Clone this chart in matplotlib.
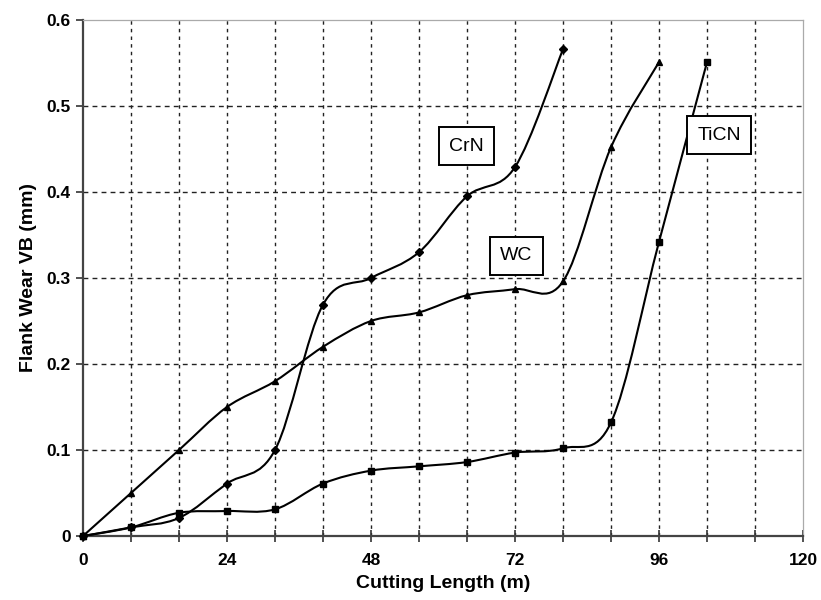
import matplotlib
matplotlib.use("Agg")
import matplotlib.pyplot as plt
from matplotlib.path import Path
from matplotlib.patches import PathPatch
from matplotlib.ticker import MultipleLocator
import numpy as np

plt.rcParams['font.family'] = ['Liberation Sans', 'DejaVu Sans']

# ---- data ----
crn_x = [0, 8, 16, 24, 32, 40, 48, 56, 64, 72, 80]
crn_y = [0, 0.01, 0.021, 0.061, 0.10, 0.269, 0.30, 0.33, 0.395, 0.429, 0.566]

wc_x = [0, 8, 16, 24, 32, 40, 48, 56, 64, 72, 80, 88, 96]
wc_y = [0, 0.05, 0.10, 0.15, 0.18, 0.22, 0.25, 0.26, 0.28, 0.287, 0.296, 0.452, 0.551]

ticn_x = [0, 8, 16, 24, 32, 40, 48, 56, 64, 72, 80, 88, 96, 104]
ticn_y = [0, 0.01, 0.027, 0.029, 0.031, 0.061, 0.076, 0.081, 0.086, 0.097, 0.102, 0.132, 0.342, 0.551]

labels = ["CrN", "WC", "TiCN"]
label_pos = [(63.9, 0.453), (72.2, 0.326), (106.0, 0.466)]

x_ticks = [0, 24, 48, 72, 96, 120]
y_ticks = [0, 0.1, 0.2, 0.3, 0.4, 0.5, 0.6]


def smooth_path(xs, ys):
    P = np.column_stack([xs, ys]).astype(float)
    n = len(P)
    verts = [P[0]]
    codes = [Path.MOVETO]
    for i in range(n - 1):
        p0 = P[i - 1] if i > 0 else P[i]
        p1 = P[i]
        p2 = P[i + 1]
        p3 = P[i + 2] if i + 2 < n else P[i + 1]
        c1 = p1 + (p2 - p0) / 6.0
        c2 = p2 - (p3 - p1) / 6.0
        verts += [c1, c2, p2]
        codes += [Path.CURVE4] * 3
    return Path(verts, codes)


fig = plt.figure(figsize=(8.21, 6.0), dpi=100)
ax = fig.add_axes([83 / 821, 1 - 536 / 600, 720 / 821, 516 / 600])

ax.set_xlim(0, 120)
ax.set_ylim(0, 0.6)

# grid
for gx in range(8, 120, 8):
    ax.axvline(gx, color='#222222', lw=1.0, ls=(0, (2.5, 3)), zorder=1)
for gy in [0.1, 0.2, 0.3, 0.4, 0.5]:
    ax.axhline(gy, color='#222222', lw=1.0, ls=(0, (3.5, 3)), zorder=1)

series = [(crn_x, crn_y, 'D', 4), (wc_x, wc_y, '^', 5), (ticn_x, ticn_y, 's', 4.5)]
for xs, ys, m, ms in series:
    ax.add_patch(PathPatch(smooth_path(xs, ys), fill=False, edgecolor='black', lw=1.5, zorder=3))
    ax.plot(xs, ys, ls='none', marker=m, ms=ms, color='black', zorder=4, clip_on=False)

for txt, (lx, ly) in zip(labels, label_pos):
    ax.text(lx, ly, txt, ha='center', va='center', fontsize=14, color='black', zorder=5,
            bbox=dict(boxstyle='square,pad=0.54', fc='white', ec='black', lw=1.4))

# spines
for s in ['left', 'bottom']:
    ax.spines[s].set_color('#444444')
    ax.spines[s].set_linewidth(1.6)
for s in ['top', 'right']:
    ax.spines[s].set_color('#aaaaaa')
    ax.spines[s].set_linewidth(0.9)

ax.set_xticks(x_ticks)
ax.set_xticklabels([str(t) for t in x_ticks])
ax.xaxis.set_minor_locator(MultipleLocator(8))
ax.set_yticks(y_ticks)
ax.set_yticklabels(['0' if t == 0 else f"{t:.1f}" for t in y_ticks])

ax.tick_params(axis='x', which='both', direction='inout', length=8, width=1.2, color='#333333',
               labelsize=12.5, pad=8)
ax.tick_params(axis='y', which='both', direction='out', length=5, width=1.2, color='#333333',
               labelsize=12.5, pad=4)
for lab in ax.get_xticklabels() + ax.get_yticklabels():
    lab.set_fontweight('bold')

ax.set_xlabel('Cutting Length (m)', fontsize=14, fontweight='bold', labelpad=5)
ax.set_ylabel('Flank Wear VB (mm)', fontsize=14, fontweight='bold', labelpad=7)

fig.savefig('out.png', dpi=100)
